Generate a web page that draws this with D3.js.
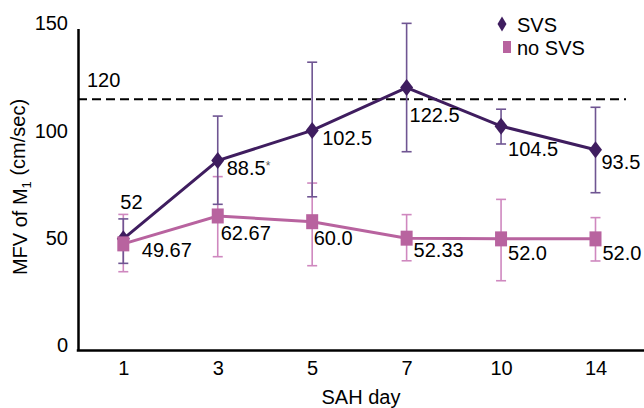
<!DOCTYPE html>
<html>
<head>
<meta charset="utf-8">
<script src="https://cdn.jsdelivr.net/npm/d3@7"></script>
<style>
  body { margin: 0; background: #fff; }
  svg { display: block; font-family: "Liberation Sans", Arial, Helvetica, sans-serif; }
</style>
</head>
<body>
<div id="chart"></div>
<script>
// data
const days = ["1", "3", "5", "7", "10", "14"];
const svsMean = [52, 88.5, 102.5, 122.5, 104.5, 93.5];
const svsLow = [40.6, 68.1, 71.6, 92.6, 96.2, 73.5];
const svsHigh = [61.3, 109.2, 134.3, 152.4, 112.4, 113.3];
const svsLabels = ["52", "88.5", "102.5", "122.5", "104.5", "93.5"];
const noSvsMean = [49.67, 62.67, 60.0, 52.33, 52.0, 52.0];
const noSvsLow = [36.7, 43.7, 39.5, 41.8, 32.5, 41.7];
const noSvsHigh = [63.4, 81.0, 78.0, 63.3, 70.4, 61.9];
const noSvsLabels = ["49.67", "62.67", "60.0", "52.33", "52.0", "52.0"];
const yTicks = [0, 50, 100, 150];
const threshold = 117;
const thresholdLabel = "120";

// label placement next to each marker [dx, dy]
const svsLabelOffsets = [[-3, -37], [9, 7.5], [10, 7.5], [3, 27.5], [7, 23], [6, 12]];
const noSvsLabelOffsets = [[18.5, 6], [3, 17], [1.5, 16.5], [7, 12], [7, 14], [7, 14]];

const svsColor = "#3f1d5f";
const svsBarColor = "#6f5592";
const noSvsColor = "#b8639f";
const noSvsBarColor = "#cf88bf";

const width = 644;
const height = 408;

const svg = d3
  .select("#chart")
  .append("svg")
  .attr("width", width)
  .attr("height", height);

const x = d3.scalePoint().domain(days).range([123.3, 595.5]);
const y = d3.scaleLinear().domain([0, 150]).range([350.5, 28.5]);
const axisX = 78;

// dashed reference line
svg
  .append("line")
  .attr("x1", axisX)
  .attr("x2", 626)
  .attr("y1", y(threshold))
  .attr("y2", y(threshold))
  .attr("stroke", "#000")
  .attr("stroke-width", 2)
  .attr("stroke-dasharray", "9,5");

svg
  .append("text")
  .attr("x", 87)
  .attr("y", y(threshold) - 19)
  .attr("dy", "0.35em")
  .attr("font-size", 20)
  .text(thresholdLabel);

// error bars
const drawBars = (lows, highs, color, cls) => {
  const g = svg.append("g").attr("class", cls);
  const cap = 5;
  days.forEach((d, i) => {
    g.append("line")
      .attr("x1", x(d)).attr("x2", x(d))
      .attr("y1", y(lows[i])).attr("y2", y(highs[i]))
      .attr("stroke", color).attr("stroke-width", 1.6);
    [lows[i], highs[i]].forEach((v) => {
      g.append("line")
        .attr("x1", x(d) - cap).attr("x2", x(d) + cap)
        .attr("y1", y(v)).attr("y2", y(v))
        .attr("stroke", color).attr("stroke-width", 1.6);
    });
  });
};
drawBars(noSvsLow, noSvsHigh, noSvsBarColor, "bars-nosvs");
drawBars(svsLow, svsHigh, svsBarColor, "bars-svs");

const diamond = (w, h) =>
  `M0,${-h / 2}L${w / 2},0L0,${h / 2}L${-w / 2},0Z`;

const line = (vals) =>
  d3.line().x((d, i) => x(days[i])).y((d) => y(d))(vals);

// SVS series
svg.append("path")
  .attr("d", line(svsMean))
  .attr("fill", "none")
  .attr("stroke", svsColor)
  .attr("stroke-width", 3);

svg.selectAll(".svs-pt")
  .data(svsMean)
  .enter()
  .append("path")
  .attr("class", "svs-pt")
  .attr("transform", (d, i) => `translate(${x(days[i])},${y(d)})`)
  .attr("d", diamond(13, 17))
  .attr("fill", svsColor);

// no SVS series
svg.append("path")
  .attr("d", line(noSvsMean))
  .attr("fill", "none")
  .attr("stroke", noSvsColor)
  .attr("stroke-width", 3);

svg.selectAll(".nosvs-pt")
  .data(noSvsMean)
  .enter()
  .append("rect")
  .attr("class", "nosvs-pt")
  .attr("x", (d, i) => x(days[i]) - 6)
  .attr("y", (d) => y(d) - 7.5)
  .attr("width", 12)
  .attr("height", 15)
  .attr("fill", noSvsColor);

// value labels
const labels = (vals, texts, offsets) => {
  vals.forEach((v, i) => {
    const t = svg.append("text")
      .attr("x", x(days[i]) + offsets[i][0])
      .attr("y", y(v) + offsets[i][1])
      .attr("dy", "0.35em")
      .attr("font-size", 20)
      .attr("fill", "#000")
      .text(texts[i]);
    if (i === 1 && texts === svsLabels) {
      t.append("tspan")
        .attr("dy", "-0.45em")
        .attr("font-size", 12)
        .attr("fill", "#555")
        .text("*");
    }
  });
};
labels(svsMean, svsLabels, svsLabelOffsets);
labels(noSvsMean, noSvsLabels, noSvsLabelOffsets);

// axes
const yAxis = svg.append("g")
  .attr("transform", `translate(${axisX},0)`)
  .call(d3.axisLeft(y).tickValues(yTicks).tickSize(0).tickSizeOuter(0).tickPadding(10));
yAxis.select(".domain").attr("stroke", "#000").attr("stroke-width", 2.5);
yAxis.selectAll("text")
  .attr("font-size", 20)
  .attr("font-family", "Liberation Sans, Arial, sans-serif")
  .attr("fill", "#000")
  .attr("dy", "0.06em");

svg.append("line")
  .attr("x1", axisX - 1.25)
  .attr("x2", width)
  .attr("y1", y(0))
  .attr("y2", y(0))
  .attr("stroke", "#000")
  .attr("stroke-width", 2.5);

const xAxis = svg.append("g")
  .attr("transform", `translate(0,${y(0)})`)
  .call(d3.axisBottom(x).tickSize(0).tickPadding(10));
xAxis.select(".domain").remove();
xAxis.selectAll("text")
  .attr("font-size", 20)
  .attr("font-family", "Liberation Sans, Arial, sans-serif")
  .attr("fill", "#000");

// axis titles
svg.append("text")
  .attr("x", 361)
  .attr("y", 397)
  .attr("dy", "0.35em")
  .attr("text-anchor", "middle")
  .attr("font-size", 20)
  .text("SAH day");

const yTitle = svg.append("text")
  .attr("transform", "translate(20,187) rotate(-90)")
  .attr("dy", "0.35em")
  .attr("text-anchor", "middle")
  .attr("font-size", 20);
yTitle.append("tspan").text("MFV of M");
yTitle.append("tspan").attr("dy", "0.3em").attr("font-size", 13).text("1");
yTitle.append("tspan").attr("dy", "-0.3em").text(" (cm/sec)");

// legend
const legend = svg.append("g");
legend.append("path")
  .attr("transform", "translate(502,24)")
  .attr("d", diamond(9, 15))
  .attr("fill", svsColor);
legend.append("rect")
  .attr("x", 503).attr("y", 41)
  .attr("width", 8).attr("height", 12)
  .attr("fill", noSvsColor);
legend.append("text")
  .attr("x", 517).attr("y", 25).attr("dy", "0.35em")
  .attr("font-size", 20).text("SVS");
legend.append("text")
  .attr("x", 517).attr("y", 48).attr("dy", "0.35em")
  .attr("font-size", 20).text("no SVS");
</script>
</body>
</html>
